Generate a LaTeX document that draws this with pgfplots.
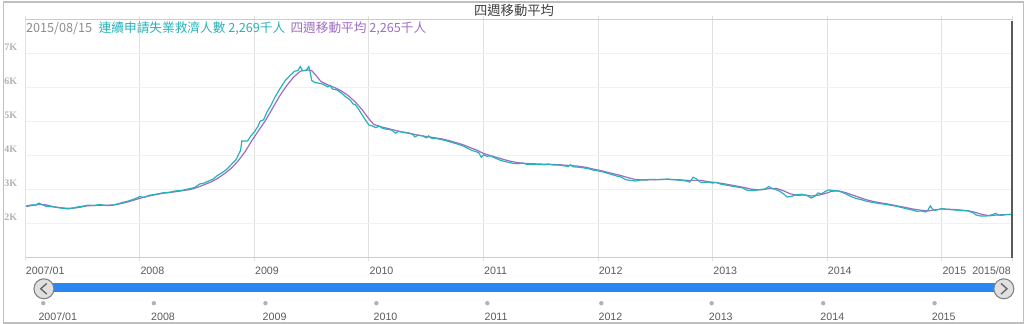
\documentclass[border=0pt]{standalone}
\usepackage{pgfplots}
\pgfplotsset{compat=1.18}
\usepackage{fontspec}
\setmainfont{Liberation Sans}
\newfontfamily\cjk{Noto Sans CJK TC}
\newfontfamily\serifk{Liberation Serif}
\definecolor{tealc}{RGB}{38,178,186}
\definecolor{purp}{RGB}{160,108,192}
\definecolor{gridx}{RGB}{224,224,224}
\definecolor{gridy}{RGB}{240,240,240}
\definecolor{slblue}{RGB}{42,135,242}
\definecolor{lbl}{RGB}{90,90,90}

\pgfplotstableread{
x y
2007.00 2.51
2007.03 2.53
2007.06 2.55
2007.09 2.54
2007.12 2.60
2007.15 2.55
2007.18 2.51
2007.22 2.50
2007.26 2.48
2007.30 2.46
2007.34 2.44
2007.38 2.43
2007.42 2.46
2007.46 2.49
2007.50 2.51
2007.55 2.54
2007.60 2.53
2007.65 2.56
2007.70 2.53
2007.75 2.53
2007.80 2.57
2007.85 2.62
2007.90 2.66
2007.95 2.72
2008.00 2.79
2008.04 2.77
2008.08 2.83
2008.12 2.85
2008.17 2.88
2008.21 2.91
2008.26 2.92
2008.31 2.96
2008.36 2.97
2008.40 3.00
2008.44 3.03
2008.48 3.06
2008.52 3.16
2008.56 3.19
2008.60 3.25
2008.64 3.31
2008.68 3.42
2008.72 3.50
2008.76 3.60
2008.80 3.74
2008.84 3.88
2008.88 4.16
2008.89 4.43
2008.94 4.43
2008.97 4.58
2009.00 4.70
2009.03 4.85
2009.05 5.01
2009.08 5.05
2009.11 5.28
2009.14 5.45
2009.18 5.72
2009.22 5.95
2009.27 6.21
2009.31 6.35
2009.35 6.48
2009.38 6.50
2009.40 6.62
2009.42 6.50
2009.45 6.50
2009.475 6.62
2009.49 6.40
2009.50 6.21
2009.53 6.15
2009.56 6.13
2009.60 6.10
2009.64 6.02
2009.66 6.06
2009.68 5.96
2009.72 5.93
2009.76 5.84
2009.80 5.72
2009.84 5.62
2009.86 5.52
2009.88 5.50
2009.91 5.36
2009.94 5.20
2009.97 5.04
2010.00 4.90
2010.03 4.87
2010.06 4.82
2010.09 4.87
2010.12 4.80
2010.16 4.77
2010.20 4.75
2010.23 4.66
2010.26 4.71
2010.30 4.68
2010.34 4.66
2010.38 4.63
2010.40 4.55
2010.43 4.60
2010.47 4.58
2010.50 4.52
2010.52 4.58
2010.55 4.50
2010.59 4.50
2010.63 4.47
2010.67 4.44
2010.71 4.40
2010.75 4.36
2010.79 4.32
2010.83 4.27
2010.87 4.20
2010.90 4.15
2010.93 4.12
2010.96 4.08
2010.98 3.95
2011.00 4.02
2011.03 3.98
2011.06 3.99
2011.10 3.93
2011.14 3.87
2011.18 3.83
2011.22 3.80
2011.26 3.77
2011.30 3.76
2011.34 3.78
2011.38 3.74
2011.43 3.74
2011.48 3.74
2011.53 3.73
2011.57 3.75
2011.61 3.72
2011.65 3.72
2011.70 3.70
2011.74 3.68
2011.76 3.73
2011.78 3.67
2011.82 3.66
2011.87 3.64
2011.92 3.61
2011.96 3.57
2012.00 3.55
2012.04 3.52
2012.08 3.48
2012.12 3.44
2012.16 3.40
2012.20 3.37
2012.24 3.29
2012.28 3.27
2012.33 3.25
2012.37 3.28
2012.42 3.29
2012.47 3.30
2012.52 3.29
2012.57 3.30
2012.61 3.31
2012.65 3.29
2012.69 3.28
2012.73 3.27
2012.77 3.25
2012.80 3.22
2012.83 3.36
2012.86 3.31
2012.89 3.22
2012.92 3.21
2012.96 3.22
2013.00 3.19
2013.03 3.21
2013.06 3.17
2013.10 3.14
2013.14 3.12
2013.18 3.09
2013.22 3.07
2013.26 3.05
2013.30 2.98
2013.34 2.97
2013.38 2.98
2013.42 3.00
2013.46 3.02
2013.49 3.09
2013.52 3.03
2013.55 3.00
2013.58 2.96
2013.62 2.87
2013.65 2.78
2013.69 2.80
2013.73 2.85
2013.78 2.86
2013.82 2.83
2013.86 2.75
2013.89 2.80
2013.92 2.90
2013.95 2.87
2013.98 2.94
2014.01 2.99
2014.05 2.97
2014.09 2.96
2014.13 2.92
2014.17 2.86
2014.21 2.79
2014.25 2.74
2014.30 2.70
2014.35 2.65
2014.40 2.62
2014.45 2.59
2014.50 2.57
2014.55 2.54
2014.60 2.51
2014.65 2.47
2014.70 2.43
2014.74 2.40
2014.78 2.36
2014.82 2.37
2014.86 2.34
2014.88 2.40
2014.90 2.52
2014.92 2.42
2014.94 2.39
2014.97 2.41
2015.00 2.44
2015.03 2.42
2015.07 2.41
2015.11 2.40
2015.15 2.39
2015.19 2.38
2015.23 2.37
2015.27 2.32
2015.30 2.25
2015.34 2.22
2015.38 2.22
2015.41 2.23
2015.44 2.26
2015.47 2.30
2015.49 2.26
2015.52 2.24
2015.55 2.26
2015.59 2.27
2015.62 2.269
}\claims

\pgfplotstableread{
x y
2007.00 2.50
2007.06 2.53
2007.12 2.56
2007.18 2.55
2007.24 2.50
2007.30 2.47
2007.36 2.45
2007.42 2.45
2007.48 2.48
2007.54 2.52
2007.60 2.53
2007.66 2.54
2007.72 2.54
2007.78 2.55
2007.84 2.59
2007.90 2.64
2007.96 2.70
2008.02 2.76
2008.08 2.81
2008.14 2.85
2008.20 2.89
2008.26 2.91
2008.32 2.94
2008.38 2.97
2008.44 3.00
2008.50 3.06
2008.56 3.14
2008.62 3.22
2008.68 3.33
2008.74 3.47
2008.80 3.63
2008.86 3.85
2008.92 4.12
2008.98 4.45
2009.04 4.75
2009.10 5.05
2009.16 5.40
2009.22 5.75
2009.28 6.05
2009.34 6.30
2009.40 6.48
2009.46 6.52
2009.50 6.50
2009.54 6.35
2009.58 6.18
2009.64 6.08
2009.70 6.00
2009.76 5.90
2009.82 5.76
2009.88 5.58
2009.94 5.35
2010.00 5.08
2010.04 4.92
2010.10 4.85
2010.16 4.80
2010.22 4.75
2010.28 4.70
2010.34 4.67
2010.40 4.62
2010.46 4.58
2010.52 4.55
2010.58 4.52
2010.64 4.49
2010.70 4.44
2010.76 4.38
2010.82 4.32
2010.88 4.24
2010.94 4.16
2011.00 4.06
2011.06 4.00
2011.12 3.94
2011.18 3.88
2011.24 3.83
2011.30 3.79
2011.36 3.77
2011.42 3.76
2011.50 3.75
2011.58 3.74
2011.66 3.73
2011.74 3.71
2011.82 3.69
2011.90 3.65
2011.96 3.60
2012.02 3.56
2012.08 3.51
2012.14 3.46
2012.20 3.41
2012.26 3.35
2012.32 3.30
2012.40 3.28
2012.50 3.29
2012.60 3.30
2012.70 3.29
2012.78 3.27
2012.84 3.27
2012.90 3.27
2012.96 3.23
2013.02 3.21
2013.10 3.17
2013.18 3.12
2013.26 3.07
2013.34 3.01
2013.42 2.99
2013.50 3.03
2013.56 3.03
2013.62 2.96
2013.68 2.87
2013.74 2.83
2013.80 2.84
2013.86 2.81
2013.92 2.83
2013.98 2.88
2014.04 2.95
2014.10 2.96
2014.16 2.91
2014.22 2.84
2014.28 2.77
2014.34 2.70
2014.40 2.65
2014.46 2.61
2014.52 2.58
2014.58 2.54
2014.64 2.50
2014.70 2.46
2014.76 2.42
2014.82 2.39
2014.88 2.37
2014.94 2.40
2015.00 2.43
2015.06 2.42
2015.12 2.41
2015.18 2.39
2015.24 2.37
2015.30 2.32
2015.36 2.26
2015.42 2.23
2015.48 2.25
2015.54 2.26
2015.62 2.265
}\avg

\begin{document}
\begin{tikzpicture}
\begin{axis}[
  at={(17.25pt,51pt)}, anchor=south west,
  scale only axis, width=741pt, height=178.5pt,
  xmin=2007, xmax=2015.62, ymin=1, ymax=8,
  axis line style={draw=none},
  xtick={2007,2008,...,2015},
  xticklabels={2007/01,2008,2009,2010,2011,2012,2013,2014,2015},
  extra x ticks={2015.62},
  extra x tick labels={2015/08},
  extra x tick style={xticklabel style={anchor=north east, xshift=5pt}, grid=none},
  ytick={2,...,7},
  yticklabels={2K,3K,4K,5K,6K,7K},
  xmajorgrids, ymajorgrids,
  x grid style={gridx, line width=0.8pt},
  y grid style={gridy, line width=0.8pt},
  tick align=outside,
  major tick length=2.5pt,
  x tick style={gridx, line width=0.8pt},
  y tick style={draw=none},
  /pgf/number format/assume math mode=true,
  xticklabel style={font=\fontsize{8}{9}\selectfont, text=lbl, anchor=north west, xshift=-3pt, yshift=-1pt},
  yticklabel style={font=\serifk\bfseries\fontsize{7.5}{8}\selectfont, text=black!30, anchor=east, yshift=4.5pt, xshift=0pt},
  clip=false,
]
\addplot[purp, line width=0.9pt, no markers] table {\avg};
\addplot[tealc, line width=0.9pt, no markers] table {\claims};
\end{axis}

\begin{scope}[x=0.75pt, y=-0.75pt, shift={(0pt,243.75pt)}]
  % outer frame
  \draw[black!25, line width=1pt] (1.5,1.5) rectangle (1021.5,322.5);
  % title
  \node[text=black!75, font=\cjk\fontsize{10}{12}\selectfont] at (512,10) {四週移動平均};
  % plot frame lines
  \draw[black!20, line width=0.8pt] (23,19) -- (1011,19);
  \draw[black!20, line width=0.8pt] (23,257) -- (1011,257);
  \draw[black!12, line width=0.8pt] (23,19) -- (23,257);
  % cursor
  \draw[black!65, line width=1.6pt] (1010.5,20) -- (1010.5,257);
  % legend text
  \node[anchor=west, inner sep=0pt, font=\cjk\fontsize{9.5}{11}\selectfont] at (23.5,27.5)
    {\textcolor{black!45}{2015/08/15}\hspace{5pt}\textcolor{tealc}{連續申請失業救濟人數 2,269千人}\hspace{4pt}\textcolor{purp}{四週移動平均 2,265千人}};
  % slider
  \fill[slblue] (42,283) rectangle (1001,292);
  \foreach \cx/\s in {41.7/<, 1002/>} {
    \draw[fill=black!12, draw=black!50, line width=0.8pt] (\cx,288.3) circle (10);
  }
  \draw[black!60, line width=1pt] (44.5,283) -- (38.5,288.3) -- (44.5,293.6);
  \draw[black!60, line width=1pt] (999.2,283) -- (1005.2,288.3) -- (999.2,293.6);
  \foreach \dx/\lab/\off in {41/2007\slash01/5, 151.7/2008/3, 263.3/2009/3, 374.3/2010/3, 485.3/2011/3, 599.3/2012/3, 709.7/2013/3, 821.3/2014/3, 932.7/2015/3} {
    \fill[black!30] (\dx,302.7) circle (2.2);
    \node[anchor=west, inner sep=0pt, text=lbl, font=\fontsize{8}{9}\selectfont] at (\dx-\off,316) {\lab};
  }
\end{scope}
\end{tikzpicture}
\end{document}
